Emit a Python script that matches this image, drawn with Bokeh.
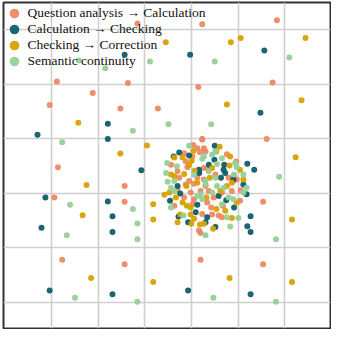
from bokeh.plotting import figure
from bokeh.models import FixedTicker, ColumnDataSource, Legend, LegendItem
from bokeh.embed import file_html
from bokeh.resources import INLINE

labels = ["Question analysis \u2192 Calculation", "Calculation \u2192 Checking",
          "Checking \u2192 Correction", "Semantic continuity"]
colors = ["#EC8963", "#0D5E69", "#D8A100", "#96D096"]

x_ticks = [-30, -20, -10, 0, 10, 20]
y_ticks = [-20, -10, 0, 10, 20, 30]

# Question analysis -> Calculation
qa_x = [-11.56, 2.32, 18.32, -28.80, -13.59, 1.48, 17.39, -21.13, -30.36, -15.21, -7.18, 2.32,
        16.12, -28.59, -14.30, -29.37, -14.30, 15.36, -27.68, -14.30, 1.96, 15.36,
        2.32, 0.42, 1.27, -1.55, 1.83, 3.03, 7.61, -4.37, -1.20, -0.85, 2.68, 3.73, 9.58, 9.01,
        -2.61, -0.49, 3.03, 7.96, 9.72, 10.56, -2.96, 0.56, 1.97, 3.73, 6.55, 8.66, -0.14, -1.55,
        0.56, 3.38, -3.66, 0.21, 4.23, 6.76, 10.42, 2.32, 4.44, 5.85, 6.55, 1.62, 1.97, 0.21,
        -2.96, 2.68, -1.20, 2.68, 9.01, 5.14, 1.27, 4.79]
qa_y = [31.12, 30.99, 31.71, 20.47, 20.22, 19.49, 20.29, 18.36, 16.19, 15.52, 15.52, 9.93,
        9.93, 4.77, 1.34, -0.78, -1.55, -1.55, -12.20, -13.00, -12.20, -13.00,
        9.87, 8.84, 8.24, 7.34, 7.52, 7.64, 7.16, 5.23, 5.84, 4.75, 4.63, 4.33, 5.84, 2.23,
        2.83, 2.23, 1.32, 2.83, 2.53, 0.54, 0.72, 1.75, 0.42, 0.42, 0.12, 0.42, 0.12, -0.78,
        -1.08, -1.69, -2.29, -1.99, -2.59, -2.29, -1.38, -3.79, -3.91, -4.09, -4.39, -6.80, -7.28, 6.74,
        4.03, 2.53, 1.62, 8.24, 3.13, 3.43, 2.83, -0.78]

# Calculation -> Checking
cc_x = [-14.30, -0.27, 15.63, 14.79, -17.90, -32.96, -17.90, -10.71, 13.46, 11.98, -31.27,
        -17.90, -16.90, -32.11, -16.90, 12.68, 11.98, 12.68, -30.36, -16.90, -0.70, 12.68,
        5.00, -2.61, -0.49, 4.93, 1.62, 1.69, 7.04, 7.25, 6.34, 11.13, -2.39, 5.85, -4.58,
        1.27, 7.46, 9.15, -2.75, 3.38, 3.03, -0.70, 5.14, -3.80, -2.96, 6.90, 9.01, 3.73,
        11.83, 0.92]
cc_y = [25.40, 25.40, 26.17, 14.75, 12.76, 10.72, 9.93, 4.22, 4.33, 5.42, -0.78,
        -1.50, -4.21, -6.32, -7.09, -4.21, -6.06, -7.09, -17.80, -18.52, -17.80, -18.52,
        8.72, 7.46, 6.92, 6.14, 4.33, 3.73, 5.23, 3.73, 2.83, 1.62, -0.06, -0.48, -1.38,
        -2.11, -1.26, -2.59, -4.27, -4.39, -5.29, -5.29, -6.20, 6.74, 1.32, 4.33, 2.53, 5.23,
        -0.18, -3.49]

# Checking -> Correction
ck_x = [-5.49, 8.45, 10.56, 24.45, 23.60, 7.61, -24.23, -9.51, -15.21, 22.33, -22.46,
        -23.30, -8.18, -8.18, 21.55, -21.49, -8.18, 8.18, 21.55, -5.77,
        6.06, 0.42, -1.90, -3.66, 0.07, 5.35, 8.31, 0.70, 8.17, 10.42, -4.37, -1.55, 3.94,
        11.13, -1.06, 7.61, 8.66, -1.90, 3.24, -3.31, -0.14, -0.99, 5.35, 7.25, 9.72, -2.39,
        -0.14, 0.56, 8.66, -2.96, 0.00, 1.83, 2.68, 4.65, -0.49, -3.66, 1.27, 4.44, 6.20, -4.72]
ck_y = [27.69, 27.69, 28.47, 28.47, 17.04, 16.25, 12.94, 8.74, 7.29, 6.62, 1.52,
        -4.03, -1.99, -4.80, -4.80, -15.52, -16.25, -15.52, -16.25, -0.29,
        8.54, 7.76, 6.56, 6.56, 5.96, 7.64, 6.74, 4.15, 5.11, 4.33, 3.43, 3.55, 2.83,
        2.53, 1.32, 1.32, 1.93, -1.69, -0.78, -0.78, -2.59, -2.29, -2.89, -3.19, -1.69, -3.91,
        -3.91, -4.69, -4.51, -5.29, -5.60, -5.72, -5.60, -6.50, 5.23, 3.13, 1.93, 4.63, 0.42, 0.12]

# Semantic continuity
sc_x = [-24.09, -18.45, -8.87, 5.01, 20.98, -4.92, 4.23, -12.53, -27.68, 18.80, -25.99,
        -12.53, -11.56, -26.69, -11.56, 18.11, -24.93, -11.56, 4.71, 18.11,
        -0.49, 2.68, 4.44, 6.55, -5.21, -3.10, 5.49, 9.72, 9.15, -5.42, -3.66, -5.07, 3.03,
        5.14, 11.13, 11.83, -4.37, -3.66, 1.97, 4.44, 5.49, 6.90, 7.96, 2.32, -4.37, 9.01,
        -1.69, 7.61, 10.07, 3.03, 8.31, 5.14, 2.32, 0.56, 3.03, 9.37, 3.73, 11.13, 1.27, 6.55]
sc_y = [24.31, 22.92, 24.13, 24.13, 24.86, 12.64, 12.64, 11.44, 9.33, 3.01, -2.09,
        -2.89, -5.52, -7.69, -8.41, -8.41, -19.13, -19.86, -19.13, -19.86,
        8.72, 6.74, 7.04, 6.44, 5.54, 4.93, 5.36, 4.75, 3.43, 3.73, 2.23, 2.11, 2.23,
        2.83, 3.43, 1.02, 1.02, 0.42, -0.18, 0.12, 1.32, 1.02, -0.78, -1.08, -2.59, -1.08,
        -4.09, -4.39, -4.51, -7.70, -6.08, 7.64, 6.32, 3.43, 1.62, 5.54, 4.03, 0.12, -0.48, -1.99]

series = [(qa_x, qa_y), (cc_x, cc_y), (ck_x, ck_y), (sc_x, sc_y)]

W, H = 331, 329
BL, BR, BT, BB = 3, 1, 2, 1
p = figure(width=W, height=H, output_backend="svg", toolbar_location=None,
           x_range=(-40.25, 29.8), y_range=(-24.78, 34.96),
           min_border_left=BL, min_border_right=BR, min_border_top=BT, min_border_bottom=BB)
p.axis.visible = False
p.xgrid.ticker = FixedTicker(ticks=x_ticks)
p.ygrid.ticker = FixedTicker(ticks=y_ticks)
p.grid.grid_line_color = "#cfcfcf"
p.grid.grid_line_width = 1.6
p.outline_line_color = "#333333"
p.outline_line_width = 2
p.background_fill_color = "white"
p.border_fill_color = "white"

renderers = []
for (xs, ys), c in zip(series, colors):
    src = ColumnDataSource(dict(x=xs, y=ys))
    r = p.scatter("x", "y", source=src, size=6, fill_color=c, line_color=None, fill_alpha=0.95)
    renderers.append(r)

frame_h = H - BT - BB
row_step = 16
first_center = 11
glyph = 24
for i, (r, lab) in enumerate(zip(renderers, labels)):
    c = first_center + i * row_step
    lg = Legend(items=[LegendItem(label=lab, renderers=[r])],
                location=(-1.5, frame_h - c - glyph / 2),
                margin=0, padding=0, spacing=0,
                glyph_width=glyph, glyph_height=glyph, label_height=glyph,
                label_standoff=2,
                label_text_font="Liberation Serif", label_text_font_size="13.5px",
                label_text_color="#111111",
                background_fill_alpha=0, border_line_alpha=0)
    p.add_layout(lg)

open("out.html", "w").write(file_html(p, INLINE))
